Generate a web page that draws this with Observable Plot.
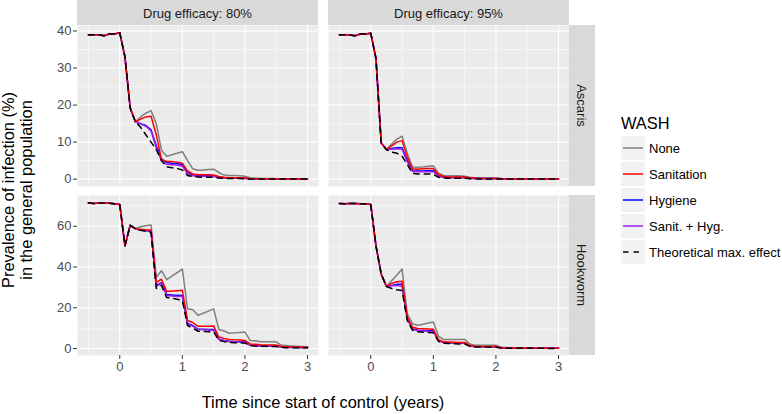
<!DOCTYPE html>
<html>
<head>
<meta charset="utf-8">
<script src="https://cdn.jsdelivr.net/npm/d3@7"></script>
<script src="https://cdn.jsdelivr.net/npm/@observablehq/plot@0.6"></script>
<style>
  body { margin: 0; background: #ffffff; }
  #chart { position: relative; width: 782px; height: 414px; overflow: hidden;
           font-family: "Liberation Sans", Arial, Helvetica, sans-serif; }
  #chart > svg { position: absolute; }
</style>
</head>
<body>
<div id="chart"></div>
<script>
// ---------------- data ----------------
const months = [-6,-5,-4,-3,-2,-1,0,1,2,3,4,5,6,7,8,9,10,11,12,13,14,15,16,17,18,19,20,21,22,23,24,25,26,27,28,29,30,31,32,33,34,35,36];
const seriesNames = ["None", "Sanitation", "Hygiene", "Sanit. + Hyg.", "Theoretical max. effect"];
const seriesColors = ["#7F7F7F", "#FF0000", "#0000FF", "#A020F0", "#000000"];
const efficacyLabels = ["Drug efficacy: 80%", "Drug efficacy: 95%"];
const speciesLabels = ["Ascaris", "Hookworm"];
const xTicks = [0, 1, 2, 3];
const xMinor = [-0.5, 0.5, 1.5, 2.5];
const ascYTicks = [0, 10, 20, 30, 40];
const ascYMinor = [5, 15, 25, 35];
const hwYTicks = [0, 20, 40, 60];
const hwYMinor = [10, 30, 50, 70];
const yTitleLines = ["Prevalence of infection (%)", "in the general population"];
const xTitle = "Time since start of control (years)";
const legendTitle = "WASH";

// Ascaris, 80% efficacy (months -6..3 shared by all scenarios, then months 4..36)
const asc80Start = [39.0, 39.0, 39.0, 38.7, 39.2, 39.2, 39.5, 33.0, 19.2, 15.5];
const asc80None = [16.8, 17.8, 18.5, 15.0, 7.8, 6.2, 6.6, 7.0, 7.4, 5.0, 2.8, 2.4, 2.5, 2.6, 2.7, 1.8, 1.1, 1.0, 1.0, 0.9, 0.8, 0.4, 0.3, 0.2, 0.2, 0.15, 0.1, 0.1, 0.1, 0.1, 0.05, 0.05, 0.05];
const asc80San  = [16.2, 16.8, 17.0, 12.0, 5.3, 4.8, 4.8, 4.6, 4.3, 2.2, 1.4, 1.2, 1.2, 1.2, 1.1, 0.7, 0.5, 0.4, 0.4, 0.35, 0.3, 0.15, 0.1, 0.1, 0.1, 0.05, 0.05, 0.05, 0.05, 0.05, 0.05, 0.05, 0.05];
const asc80Hyg  = [15.0, 14.5, 13.3, 9.0, 5.5, 4.5, 4.3, 4.2, 3.9, 1.8, 1.1, 1.0, 0.9, 0.9, 0.9, 0.5, 0.4, 0.3, 0.3, 0.3, 0.25, 0.1, 0.1, 0.05, 0.05, 0.05, 0.05, 0.05, 0.05, 0.05, 0.05, 0.05, 0.05];
const asc80Both = [14.9, 14.3, 13.0, 8.5, 5.0, 4.0, 3.9, 3.8, 3.5, 1.5, 0.9, 0.8, 0.8, 0.8, 0.75, 0.4, 0.3, 0.25, 0.25, 0.25, 0.2, 0.1, 0.05, 0.05, 0.05, 0.05, 0.05, 0.05, 0.05, 0.05, 0.05, 0.05, 0.05];
const asc80Max  = [14.0, 12.0, 10.0, 8.0, 5.0, 3.3, 3.1, 2.9, 2.5, 1.0, 0.7, 0.6, 0.5, 0.5, 0.5, 0.3, 0.2, 0.15, 0.15, 0.15, 0.1, 0.05, 0.05, 0.05, 0.05, 0.05, 0.05, 0.05, 0.05, 0.05, 0.05, 0.05, 0.05];

// Ascaris, 95% efficacy
const asc95Start = [39.0, 39.0, 38.9, 38.7, 39.2, 39.2, 39.4, 32.6, 9.8, 8.0];
const asc95None = [9.5, 10.8, 11.6, 7.0, 3.3, 3.2, 3.3, 3.5, 3.6, 1.6, 1.0, 0.9, 0.9, 0.9, 0.8, 0.5, 0.4, 0.35, 0.3, 0.3, 0.3, 0.15, 0.1, 0.1, 0.1, 0.05, 0.05, 0.05, 0.05, 0.05, 0.05, 0.05, 0.05];
const asc95San  = [9.0, 10.0, 10.4, 6.0, 2.8, 2.7, 2.8, 2.9, 2.9, 1.2, 0.7, 0.6, 0.6, 0.6, 0.6, 0.35, 0.25, 0.2, 0.2, 0.2, 0.2, 0.1, 0.05, 0.05, 0.05, 0.05, 0.05, 0.05, 0.05, 0.05, 0.05, 0.05, 0.05];
const asc95Hyg  = [8.3, 8.5, 8.5, 5.0, 2.3, 2.2, 2.2, 2.3, 2.3, 0.9, 0.5, 0.45, 0.45, 0.45, 0.45, 0.25, 0.2, 0.15, 0.15, 0.15, 0.15, 0.1, 0.05, 0.05, 0.05, 0.05, 0.05, 0.05, 0.05, 0.05, 0.05, 0.05, 0.05];
const asc95Both = [8.1, 8.2, 8.1, 4.7, 2.1, 2.0, 2.0, 2.0, 2.0, 0.8, 0.45, 0.4, 0.4, 0.4, 0.4, 0.2, 0.15, 0.1, 0.1, 0.1, 0.1, 0.05, 0.05, 0.05, 0.05, 0.05, 0.05, 0.05, 0.05, 0.05, 0.05, 0.05, 0.05];
const asc95Max  = [7.3, 7.0, 6.2, 4.0, 1.6, 1.4, 1.4, 1.4, 1.3, 0.5, 0.3, 0.25, 0.25, 0.25, 0.25, 0.1, 0.1, 0.05, 0.05, 0.05, 0.05, 0.05, 0.05, 0.05, 0.05, 0.05, 0.05, 0.05, 0.05, 0.05, 0.05, 0.05, 0.05];

// Hookworm, 80% efficacy
const hw80Start = [71.5, 71.2, 71.4, 71.4, 71.3, 71.0, 70.7, 50.4, 60.5, 58.8];
const hw80None = [59.8, 60.3, 60.6, 35.0, 38.2, 33.8, 35.5, 37.3, 39.0, 19.5, 19.0, 16.3, 17.3, 18.4, 19.5, 9.4, 8.6, 7.5, 7.7, 7.9, 8.1, 4.0, 3.8, 3.3, 3.3, 3.3, 3.3, 1.6, 1.5, 1.2, 1.1, 1.0, 0.9];
const hw80San  = [58.5, 58.3, 58.2, 32.5, 34.0, 28.0, 28.2, 28.4, 28.6, 13.8, 12.8, 10.9, 11.0, 11.0, 11.1, 5.7, 5.0, 4.5, 4.3, 4.2, 4.0, 2.3, 2.1, 1.9, 1.8, 1.8, 1.8, 1.0, 0.9, 0.8, 0.8, 0.7, 0.7];
const hw80Hyg  = [58.0, 57.8, 57.5, 31.0, 32.3, 26.5, 26.3, 26.1, 26.0, 12.3, 11.3, 9.6, 9.5, 9.4, 9.3, 4.6, 4.0, 3.6, 3.4, 3.3, 3.2, 1.7, 1.5, 1.4, 1.4, 1.3, 1.3, 0.7, 0.6, 0.6, 0.5, 0.5, 0.5];
const hw80Both = [58.2, 58.0, 57.8, 30.5, 32.0, 26.0, 25.8, 25.6, 25.5, 12.0, 11.0, 9.3, 9.2, 9.1, 9.0, 4.4, 3.8, 3.4, 3.3, 3.2, 3.1, 1.6, 1.4, 1.3, 1.3, 1.2, 1.2, 0.6, 0.55, 0.5, 0.5, 0.45, 0.45];
const hw80Max  = [58.0, 57.6, 57.0, 29.5, 31.0, 25.0, 24.7, 24.2, 23.5, 11.3, 10.0, 8.5, 8.4, 8.3, 8.2, 4.0, 3.4, 3.0, 2.9, 2.8, 2.7, 1.4, 1.2, 1.1, 1.1, 1.0, 1.0, 0.5, 0.45, 0.4, 0.4, 0.35, 0.35];

// Hookworm, 95% efficacy
const hw95Start = [71.2, 71.0, 71.2, 71.2, 71.1, 71.0, 70.7, 50.4, 36.6, 30.5];
const hw95None = [33.3, 36.0, 39.0, 17.0, 12.2, 11.4, 11.9, 12.5, 13.0, 6.0, 4.4, 4.5, 4.5, 4.5, 4.5, 2.2, 1.6, 1.6, 1.6, 1.6, 1.6, 0.6, 0.5, 0.4, 0.4, 0.35, 0.35, 0.3, 0.3, 0.25, 0.25, 0.2, 0.2];
const hw95San  = [32.0, 32.8, 33.0, 15.5, 10.5, 9.8, 9.7, 9.6, 9.5, 4.3, 3.3, 3.2, 3.1, 3.0, 3.0, 1.5, 1.1, 1.0, 1.0, 1.0, 1.0, 0.4, 0.3, 0.3, 0.25, 0.25, 0.2, 0.2, 0.2, 0.15, 0.15, 0.15, 0.15];
const hw95Hyg  = [31.0, 31.5, 31.5, 14.8, 9.8, 9.0, 8.9, 8.8, 8.7, 3.9, 3.0, 2.9, 2.8, 2.7, 2.7, 1.3, 1.0, 0.9, 0.9, 0.9, 0.9, 0.35, 0.25, 0.25, 0.2, 0.2, 0.2, 0.15, 0.15, 0.15, 0.1, 0.1, 0.1];
const hw95Both = [30.8, 31.0, 30.5, 14.4, 9.5, 8.7, 8.6, 8.5, 8.4, 3.8, 2.9, 2.8, 2.7, 2.6, 2.6, 1.25, 0.95, 0.85, 0.85, 0.85, 0.85, 0.3, 0.25, 0.2, 0.2, 0.2, 0.15, 0.15, 0.15, 0.1, 0.1, 0.1, 0.1];
const hw95Max  = [29.5, 28.8, 28.5, 13.8, 9.0, 8.2, 8.0, 7.9, 7.8, 3.5, 2.6, 2.5, 2.4, 2.3, 2.3, 1.1, 0.8, 0.75, 0.75, 0.7, 0.7, 0.25, 0.2, 0.15, 0.15, 0.15, 0.1, 0.1, 0.1, 0.1, 0.05, 0.05, 0.05];

// ---------------- layout ----------------
const FONT = "'Liberation Sans', Arial, Helvetica, sans-serif";
const W = 782, H = 414;
const panelLeft = [77, 328];
const panelTop = [25, 195];
const panelW = 241;
const panelH = [161, 160];
const stripX = 569, stripW = 26, stripTopH = 25;
const xDomain = [-0.675, 3.175];
const yDomains = [[-1.98, 41.48], [-3.4, 75.1]];
const drawOrder = [0, 2, 3, 1, 4];
const dash = "5.5,5";
const lineW = 1.5;

const panels = [
  {row: 0, col: 0, start: asc80Start, series: [asc80None, asc80San, asc80Hyg, asc80Both, asc80Max]},
  {row: 0, col: 1, start: asc95Start, series: [asc95None, asc95San, asc95Hyg, asc95Both, asc95Max]},
  {row: 1, col: 0, start: hw80Start, series: [hw80None, hw80San, hw80Hyg, hw80Both, hw80Max]},
  {row: 1, col: 1, start: hw95Start, series: [hw95None, hw95San, hw95Hyg, hw95Both, hw95Max]}
];

const chart = document.getElementById("chart");

function makePanel(p) {
  const r = p.row, c = p.col;
  const showY = c === 0, showX = r === 1;
  const mL = showY ? panelLeft[0] : 0;
  const mB = showX ? 30 : 0;
  const yT = r === 0 ? ascYTicks : hwYTicks;
  const yM = r === 0 ? ascYMinor : hwYMinor;
  const marks = [
    Plot.frame({fill: "#EBEBEB", stroke: "none"}),
    Plot.ruleX(xMinor, {stroke: "#ffffff", strokeWidth: 0.55}),
    Plot.ruleY(yM, {stroke: "#ffffff", strokeWidth: 0.55}),
    Plot.ruleX(xTicks, {stroke: "#ffffff", strokeWidth: 1.1}),
    Plot.ruleY(yT, {stroke: "#ffffff", strokeWidth: 1.1})
  ];
  for (const i of drawOrder) {
    const vals = p.start.concat(p.series[i]);
    const rows = months.map((m, j) => ({t: m / 12, v: vals[j]}));
    const opts = {x: "t", y: "v", stroke: seriesColors[i], strokeWidth: lineW};
    if (i === 4) opts.strokeDasharray = dash;
    marks.push(Plot.line(rows, opts));
  }
  if (showY) marks.push(Plot.axisY(yT, {tickSize: 4, tickPadding: 2, fontSize: 13, stroke: "#333333", fill: "#4D4D4D", label: null}));
  if (showX) marks.push(Plot.axisX(xTicks, {tickSize: 4, tickPadding: 2, fontSize: 13, stroke: "#333333", fill: "#4D4D4D", label: null}));
  const svg = Plot.plot({
    width: mL + panelW,
    height: panelH[r] + mB,
    marginLeft: mL, marginRight: 0, marginTop: 0, marginBottom: mB,
    x: showX ? {domain: xDomain} : {domain: xDomain, axis: null},
    y: showY ? {domain: yDomains[r]} : {domain: yDomains[r], axis: null},
    style: {background: "transparent", fontFamily: FONT, fontSize: "13px", overflow: "visible"},
    marks
  });
  svg.style.position = "absolute";
  svg.style.left = (panelLeft[c] - mL) + "px";
  svg.style.top = panelTop[r] + "px";
  chart.appendChild(svg);
}
panels.forEach(makePanel);

// ---------------- decorations: strips, titles, legend ----------------
const bg = d3.create("svg")
  .attr("width", W).attr("height", H)
  .style("left", "0px").style("top", "0px")
  .style("font-family", FONT);

efficacyLabels.forEach((lab, c) => {
  bg.append("rect").attr("x", panelLeft[c]).attr("y", 0).attr("width", panelW).attr("height", stripTopH).attr("fill", "#D9D9D9");
  bg.append("text").attr("x", panelLeft[c] + panelW / 2).attr("y", 17.5)
    .attr("text-anchor", "middle").attr("font-size", 13).attr("fill", "#1A1A1A").text(lab);
});
speciesLabels.forEach((lab, r) => {
  bg.append("rect").attr("x", stripX).attr("y", panelTop[r]).attr("width", stripW).attr("height", panelH[r]).attr("fill", "#D9D9D9");
  bg.append("text").attr("transform", `translate(${stripX + stripW / 2},${panelTop[r] + panelH[r] / 2}) rotate(90)`)
    .attr("text-anchor", "middle").attr("dy", "0.35em").attr("font-size", 13).attr("fill", "#1A1A1A").text(lab);
});

// axis titles
const yMid = (panelTop[0] + panelTop[1] + panelH[1]) / 2;
[13.5, 32].forEach((x, k) => {
  bg.append("text").attr("transform", `translate(${x},${yMid}) rotate(-90)`)
    .attr("text-anchor", "middle").attr("font-size", 16.4).attr("fill", "#000").text(yTitleLines[k]);
});
bg.append("text").attr("x", (panelLeft[0] + panelLeft[1] + panelW) / 2).attr("y", 408)
  .attr("text-anchor", "middle").attr("font-size", 16.4).attr("fill", "#000").text(xTitle);

// legend
const lg = bg.append("g");
lg.append("text").attr("x", 621).attr("y", 129).attr("font-size", 16.4).attr("fill", "#000").text(legendTitle);
seriesNames.forEach((name, i) => {
  const cy = 148 + 26 * i;
  lg.append("rect").attr("x", 621).attr("y", cy - 12).attr("width", 24).attr("height", 24).attr("fill", "#F2F2F2");
  const ln = lg.append("line").attr("x1", 623).attr("x2", 643).attr("y1", cy).attr("y2", cy)
    .attr("stroke", seriesColors[i]).attr("stroke-width", lineW);
  if (i === 4) ln.attr("stroke-dasharray", dash);
  lg.append("text").attr("x", 649).attr("y", cy).attr("dy", "0.35em").attr("font-size", 13).attr("fill", "#000").text(name);
});

chart.appendChild(bg.node());
</script>
</body>
</html>
